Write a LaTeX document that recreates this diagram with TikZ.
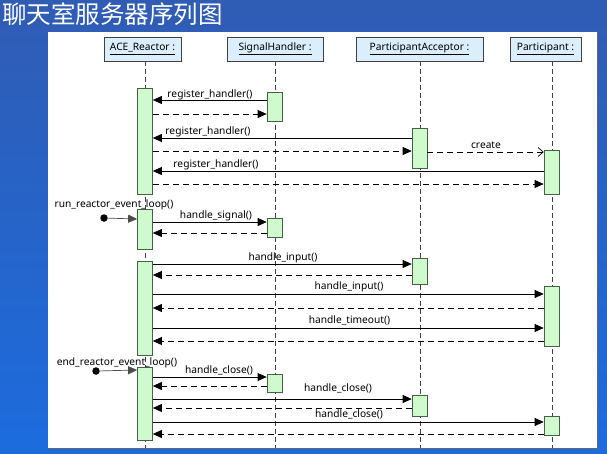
\documentclass[tikz,border=0pt]{standalone}
\usepackage{fontspec}
\setmainfont{Noto Sans}
\newfontfamily\cjk{Noto Sans CJK SC}
\usetikzlibrary{arrows.meta}
\definecolor{bgtop}{RGB}{48,92,180}
\definecolor{bgbot}{RGB}{28,108,222}
\definecolor{headfill}{RGB}{218,238,252}
\definecolor{actfill}{RGB}{206,250,206}
\definecolor{actdraw}{RGB}{70,95,70}
\begin{document}
\begin{tikzpicture}[x=1pt,y=-1pt,
  head/.style={draw=black!75, fill=headfill, minimum height=24, inner sep=0, line width=0.7pt, font=\fontsize{10.2}{12}\selectfont},
  act/.style={draw=actdraw, fill=actfill, minimum width=15, inner sep=0, anchor=north, line width=0.7pt},
  life/.style={draw=black!75, dash pattern=on 5pt off 3pt, line width=0.55pt},
  msg/.style={-{Triangle[length=9pt,width=8pt]}, line width=0.7pt},
  ret/.style={msg, dash pattern=on 6pt off 4pt},
  creat/.style={-{Straight Barb[length=5pt,width=9pt]}, line width=0.7pt, dash pattern=on 6pt off 4pt},
  start/.style={-{Triangle[length=9pt,width=8pt]}, line width=0.7pt, draw=black!70},
  dotnode/.style={circle, fill=black, inner sep=0, minimum size=7.5},
  lbl/.style={font=\fontsize{10.2}{12}\selectfont, inner sep=0, anchor=base}
]
\useasboundingbox (0,0) rectangle (607,453);
% background
\shade[top color=bgtop, bottom color=bgbot] (0,0) rectangle (607,453);
\fill[white] (48,32) rectangle (597,448);
\draw[black!60, line width=0.8pt] (597,32) -- (597,448) -- (48,448);
\node[anchor=west, text=white, inner sep=0, font=\cjk\fontsize{24.5}{26}\selectfont] (title) at (2,14.5) {聊天室服务器序列图};

% heads
\node[head, minimum width=77] (hA) at (142.5,49) {\underline{ACE\_Reactor :}};
\node[head, minimum width=96] (hS) at (275,49) {\underline{SignalHandler :}};
\node[head, minimum width=127] (hP) at (419.5,49) {\underline{ParticipantAcceptor :}};
\node[head, minimum width=71] (hQ) at (545.5,49) {\underline{Participant :}};

% lifelines
\coordinate (lA) at (145,448);
\coordinate (lS) at (275,448);
\coordinate (lP) at (420,448);
\coordinate (lQ) at (552,448);
\draw[life] (hA.south -| lA) -- (lA);
\draw[life] (hS.south -| lS) -- (lS);
\draw[life] (hP.south -| lP) -- (lP);
\draw[life] (hQ.south -| lQ) -- (lQ);

% activations
\node[act, minimum height=106] (A1) at (145,88) {};
\node[act, minimum height=29] (S1) at (274.5,92) {};
\node[act, minimum height=40] (P1) at (419.5,128) {};
\node[act, minimum height=44] (Q1) at (551.5,150) {};
\node[act, minimum height=40] (A2) at (145,209) {};
\node[act, minimum height=19] (S2) at (274.5,218) {};
\node[act, minimum height=94] (A3) at (145,261) {};
\node[act, minimum height=26] (P2) at (419.5,258) {};
\node[act, minimum height=60] (Q2) at (551.5,286) {};
\node[act, minimum height=73] (A4) at (145,367) {};
\node[act, minimum height=18] (S3) at (274.5,374) {};
\node[act, minimum height=21] (P3) at (419.5,395) {};
\node[act, minimum height=19] (Q3) at (551.5,416) {};

% group 1
\draw[msg] (S1.west |- 0,100) -- (A1.east |- 0,100);
\node[lbl] (l1) at (210,97) {register\_handler()};
\draw[ret] (A1.east |- 0,114) -- (S1.west |- 0,114);
\draw[msg] (P1.west |- 0,138) -- (A1.east |- 0,138);
\node[lbl] (l2) at (208,134) {register\_handler()};
\draw[ret] (A1.east |- 0,151) -- (P1.west |- 0,151);
\draw[creat] (P1.east |- 0,152) -- (Q1.west |- 0,152);
\node[lbl] (l3) at (486,148) {create};
\draw[msg] (Q1.west |- 0,171) -- (A1.east |- 0,171);
\node[lbl] (l4) at (216,167) {register\_handler()};
\draw[ret] (A1.east |- 0,184) -- (Q1.west |- 0,184);

% group 2
\node[dotnode] (d1) at (104,218) {};
\draw[start] (d1) -- (A2.west |- 0,219);
\node[lbl] (l5) at (114,207) {run\_reactor\_event\_loop()};
\draw[msg] (A2.east |- 0,222) -- (S2.west |- 0,222);
\node[lbl] (l6) at (216,218) {handle\_signal()};
\draw[ret] (S2.west |- 0,233) -- (A2.east |- 0,233);

% group 3
\draw[msg] (A3.east |- 0,264) -- (P2.west |- 0,264);
\node[lbl] (l7) at (283,260) {handle\_input()};
\draw[ret] (P2.west |- 0,275) -- (A3.east |- 0,275);
\draw[msg] (A3.east |- 0,294) -- (Q2.west |- 0,294);
\node[lbl] (l8) at (349,289) {handle\_input()};
\draw[ret] (Q2.west |- 0,308) -- (A3.east |- 0,308);
\draw[msg] (A3.east |- 0,328) -- (Q2.west |- 0,328);
\node[lbl] (l9) at (349.5,323) {handle\_timeout()};
\draw[ret] (Q2.west |- 0,341) -- (A3.east |- 0,341);

% group 4
\node[dotnode] (d2) at (96,371) {};
\draw[start] (d2) -- (A4.west |- 0,370);
\node[lbl] (l10) at (117,365) {end\_reactor\_event\_loop()};
\draw[msg] (A4.east |- 0,377) -- (S3.west |- 0,377);
\node[lbl] (l11) at (219,373) {handle\_close()};
\draw[ret] (S3.west |- 0,386) -- (A4.east |- 0,386);
\draw[msg] (A4.east |- 0,399) -- (P3.west |- 0,399);
\node[lbl] (l12) at (338,391) {handle\_close()};
\draw[ret] (P3.west |- 0,408) -- (A4.east |- 0,408);
\draw[msg] (A4.east |- 0,422) -- (Q3.west |- 0,422);
\node[lbl] (l13) at (349,417) {handle\_close()};
\draw[ret] (Q3.west |- 0,434) -- (A4.east |- 0,434);
\end{tikzpicture}
\end{document}
